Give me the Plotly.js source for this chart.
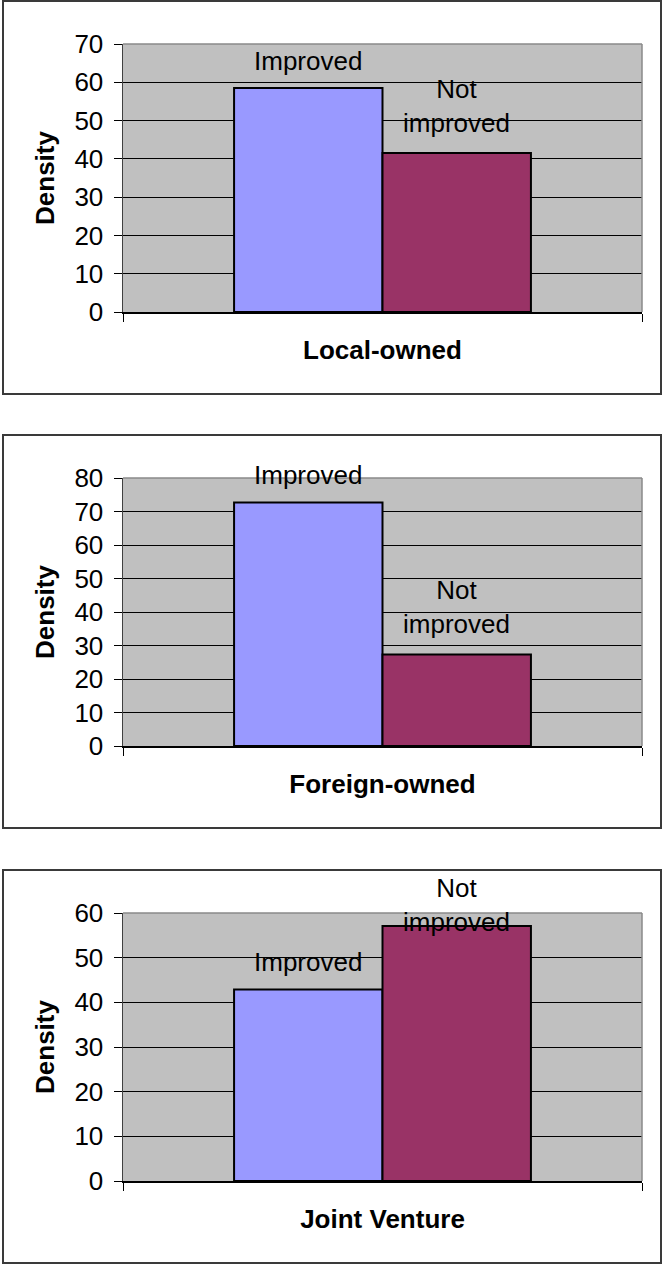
<!DOCTYPE html>
<html>
<head>
<meta charset="utf-8">
<script src="https://cdn.plot.ly/plotly-3.0.1.min.js"></script>
<style>
  html, body { margin: 0; padding: 0; background: #ffffff; }
  body { width: 662px; height: 1265px; position: relative; overflow: hidden; }
  .panel { position: absolute; left: 0; width: 662px; height: 396px; }
  .frame { position: absolute; left: 2px; width: 660px; height: 395px; box-sizing: border-box;
           border: 2px solid #3a3a3a; pointer-events: none; }
</style>
</head>
<body>
<script>
// ---- data ----
const categories   = ["Local-owned", "Foreign-owned", "Joint Venture"];
const seriesNames  = ["Improved", "Not improved"];
const improved     = [58.5, 72.7, 42.9];
const notImproved  = [41.5, 27.3, 57.1];
const yAxisMax     = [70, 80, 60];
const yAxisTitle   = "Density";

// ---- styling / layout ----
const FONT = '"Liberation Sans", Arial, sans-serif';
const colors = ["#9999FF", "#993366"];
const panelTops = [0, 434, 869];
const W = 662, H = 396;
const margin = {l: 123, r: 20, t: 44, b: 84, pad: 0};
const bargap = 0.428;
// label vertical offsets (px) per panel: [Improved, Not improved]
const labelShift = [[10.5, 13.5], [10.5, 13.5], [10.5, -13.5]];

const plotW = W - margin.l - margin.r;
const barW = plotW * (1 - bargap) / 2;

categories.forEach((cat, i) => {
  const div = document.createElement('div');
  div.className = 'panel';
  div.style.top = panelTops[i] + 'px';
  document.body.appendChild(div);

  const frame = document.createElement('div');
  frame.className = 'frame';
  frame.style.top = panelTops[i] + 'px';
  document.body.appendChild(frame);

  const vals = [improved[i], notImproved[i]];
  const traces = seriesNames.map((name, j) => ({
    type: 'bar',
    x: [cat],
    y: [vals[j]],
    name: name,
    marker: {color: colors[j], line: {color: '#000000', width: 2}},
    hoverinfo: 'skip'
  }));

  const annotations = seriesNames.map((name, j) => ({
    xref: 'x', yref: 'y',
    x: cat, y: vals[j],
    text: name.replace(' ', '<br>'),
    showarrow: false,
    xanchor: 'center', yanchor: 'bottom',
    xshift: (j === 0 ? -1 : 1) * barW / 2,
    yshift: labelShift[i][j],
    font: {family: FONT, size: 26, color: '#000000'}
  }));

  const layout = {
    width: W, height: H,
    margin: margin,
    paper_bgcolor: 'rgba(0,0,0,0)',
    plot_bgcolor: '#C0C0C0',
    barmode: 'group',
    bargap: bargap,
    bargroupgap: 0,
    showlegend: false,
    font: {family: FONT, size: 26, color: '#000000'},
    xaxis: {
      type: 'category',
      tickson: 'boundaries',
      ticks: 'outside', ticklen: 8, tickwidth: 1, tickcolor: '#000000',
      showticklabels: false,
      showline: true, linecolor: '#000000', linewidth: 1.5,
      showgrid: false, zeroline: false,
      automargin: false,
      title: {text: cat, font: {family: FONT, size: 26, weight: 'bold', color: '#000000'}, standoff: 28}
    },
    yaxis: {
      range: [0, yAxisMax[i]],
      tick0: 0, dtick: 10,
      ticks: 'outside', ticklen: 8, tickwidth: 1, tickcolor: '#000000',
      ticklabelstandoff: 5,
      tickfont: {family: FONT, size: 26, color: '#000000'},
      showgrid: true, gridcolor: '#000000', gridwidth: 1,
      zeroline: false,
      showline: true, linecolor: '#404040', linewidth: 1.5,
      automargin: false,
      title: {text: yAxisTitle, font: {family: FONT, size: 26, weight: 'bold', color: '#000000'}, standoff: 12}
    },
    shapes: [
      {type: 'line', xref: 'paper', yref: 'paper', x0: 0, x1: 1, y0: 1, y1: 1,
       line: {color: '#8a8a8a', width: 1.5}, layer: 'above'},
      {type: 'line', xref: 'paper', yref: 'paper', x0: 1, x1: 1, y0: 0, y1: 1,
       line: {color: '#8a8a8a', width: 1.5}, layer: 'above'}
    ],
    annotations: annotations
  };

  Plotly.newPlot(div, traces, layout, {staticPlot: true, displayModeBar: false});
});
</script>
</body>
</html>
